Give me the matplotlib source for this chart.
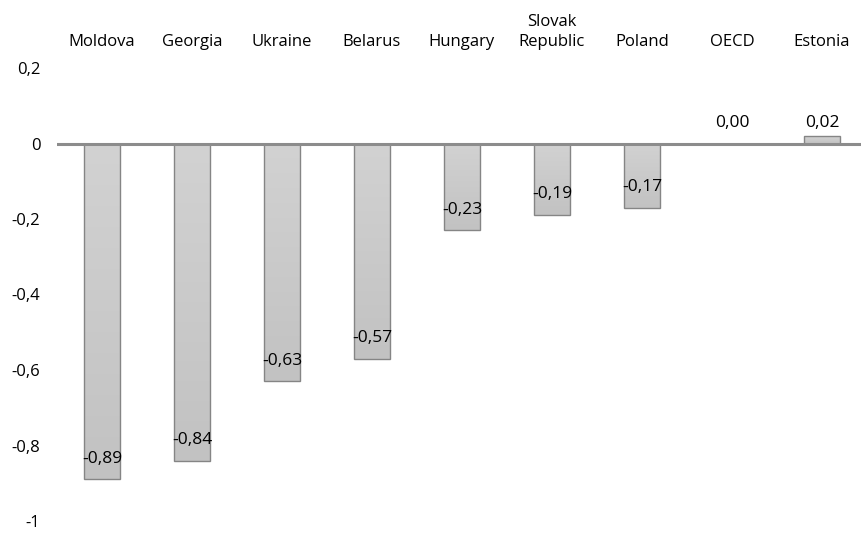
import numpy as np
import matplotlib
matplotlib.use("Agg")
import matplotlib.pyplot as plt
from matplotlib.colors import LinearSegmentedColormap

countries = ["Moldova", "Georgia", "Ukraine", "Belarus", "Hungary",
             "Slovak\nRepublic", "Poland", "OECD", "Estonia"]
values = [-0.89, -0.84, -0.63, -0.57, -0.23, -0.19, -0.17, 0.00, 0.02]
ytick_vals = [0.2, 0, -0.2, -0.4, -0.6, -0.8, -1]
ytick_labels = ["0,2", "0", "-0,2", "-0,4", "-0,6", "-0,8", "-1"]

plt.rcParams["font.family"] = ["Open Sans", "DejaVu Sans"]

fig = plt.figure(figsize=(8.61, 5.34), dpi=100)
ax = fig.add_axes([57 / 861, 13 / 534, 810 / 861, 453 / 534])
ax.set_xlim(-0.5, 8.5)
ax.set_ylim(-1, 0.2)

x = np.arange(len(countries))
bars = ax.bar(x, values, width=0.39, color="#c9c9c9", edgecolor="#858585",
              linewidth=1.0, zorder=2)

# soft vertical shading inside each bar
shade = LinearSegmentedColormap.from_list("shade", ["#c2c2c2", "#d2d2d2"])
grad = np.linspace(0, 1, 256).reshape(-1, 1)
for b in bars:
    h = b.get_height()
    if h == 0:
        continue
    x0, y0, w = b.get_x(), b.get_y(), b.get_width()
    ylo, yhi = sorted([y0, y0 + h])
    im = ax.imshow(grad, cmap=shade, aspect="auto", origin="lower",
                   extent=[x0, x0 + w, ylo, yhi], zorder=2.5)
    im.set_clip_path(b)
    b.set_facecolor("none")
    b.set_zorder(3)

ax.axhline(0, color="#8c8c8c", linewidth=2.2, zorder=4)

for xi, v in zip(x, values):
    txt = f"{v:.2f}".replace(".", ",")
    y = v + 0.055 if v < 0 else 0.055
    ax.text(xi, y, txt, ha="center", va="center", fontsize=12.5,
            color="black", zorder=5)

ax.set_yticks(ytick_vals)
ax.set_yticklabels(ytick_labels, fontsize=12)
ax.tick_params(axis="y", length=0, pad=12)

ax.xaxis.tick_top()
ax.set_xticks(x)
ax.set_xticklabels(countries, fontsize=12, linespacing=1.3)
ax.tick_params(axis="x", length=0, pad=13)

for s in ax.spines.values():
    s.set_visible(False)

fig.savefig("out.png", dpi=100)
